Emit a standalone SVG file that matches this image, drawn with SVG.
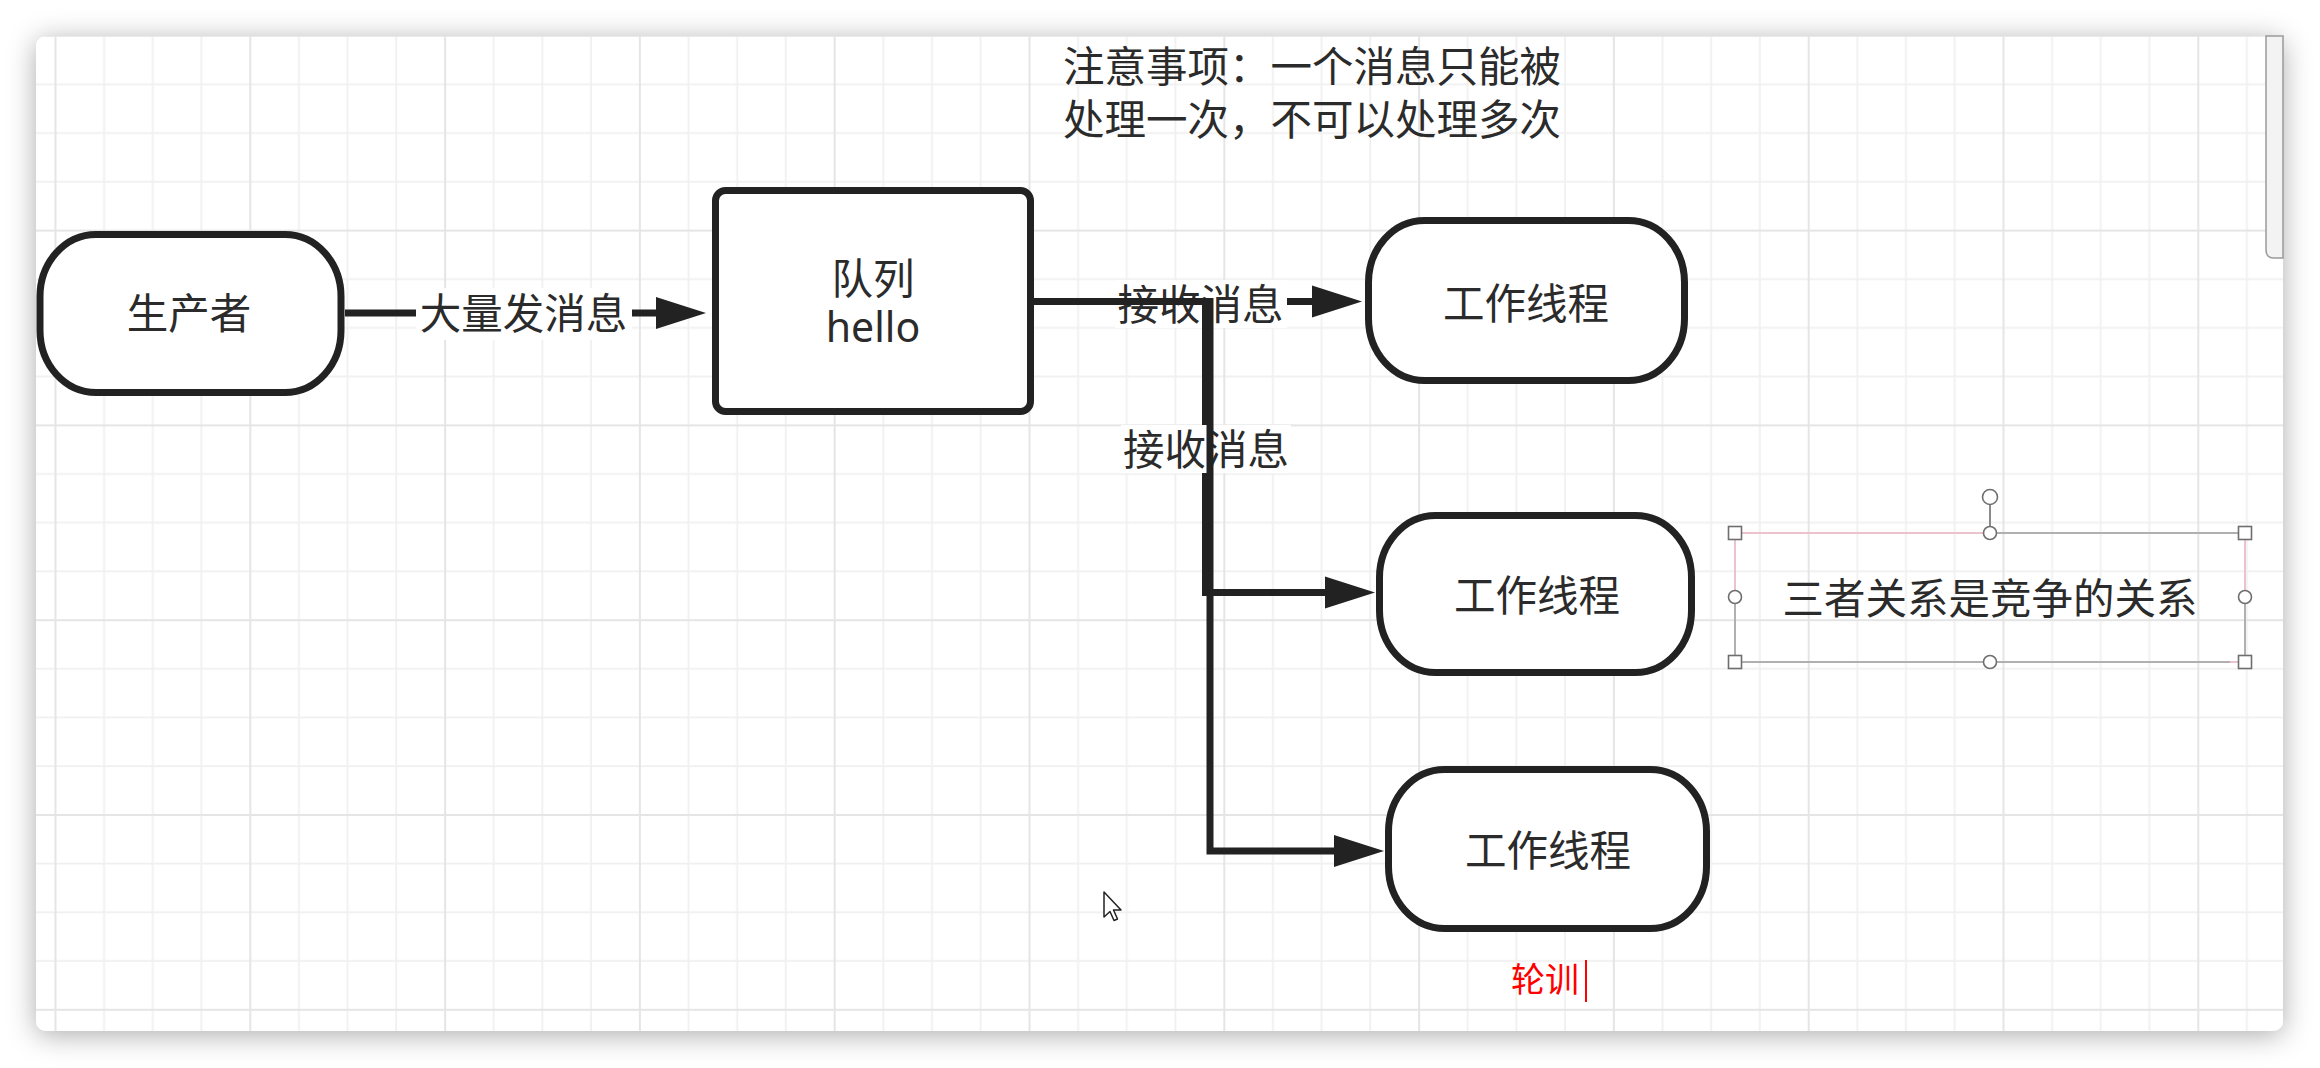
<svg xmlns="http://www.w3.org/2000/svg" width="2320" height="1068" viewBox="0 0 2320 1068">
  <defs>
    <filter id="shadow" x="-5%" y="-10%" width="110%" height="120%">
      <feDropShadow dx="0" dy="4" stdDeviation="14" flood-color="#000" flood-opacity="0.33"/>
    </filter>
    <pattern id="grid" patternUnits="userSpaceOnUse" x="54.5" y="34.8" width="194.8" height="194.8">
      <rect x="48.7" y="0" width="1.8" height="194.8" fill="#f0f0f0"/>
      <rect x="97.4" y="0" width="1.8" height="194.8" fill="#f0f0f0"/>
      <rect x="146.1" y="0" width="1.8" height="194.8" fill="#f0f0f0"/>
      <rect x="0" y="48.7" width="194.8" height="1.8" fill="#f0f0f0"/>
      <rect x="0" y="97.4" width="194.8" height="1.8" fill="#f0f0f0"/>
      <rect x="0" y="146.1" width="194.8" height="1.8" fill="#f0f0f0"/>
      <rect x="0" y="0" width="2" height="194.8" fill="#e5e5e5"/>
      <rect x="0" y="0" width="194.8" height="2" fill="#e5e5e5"/>
    </pattern>
    <marker id="arrow" markerUnits="userSpaceOnUse" markerWidth="50" markerHeight="32" refX="0" refY="16" orient="auto" overflow="visible">
      <path d="M0,0 L50,16 L0,32 Z" fill="#222"/>
    </marker>
    <style>
      .node { fill: #ffffff; stroke: #222; stroke-width: 7; }
      .edge { fill: none; stroke: #222; stroke-width: 7; stroke-linejoin: miter; marker-end: url(#arrow); }
      .t { font-family: "Noto Sans CJK SC", "Noto Sans", sans-serif; font-size: 41.5px; fill: #2b2b2b; }
      .c { text-anchor: middle; }
      .lbg { fill: #ffffff; }
      .hdl { fill: #ffffff; stroke: #6e6e6e; stroke-width: 1.6; }
    </style>
  </defs>

  <rect x="0" y="0" width="2320" height="1068" fill="#ffffff"/>
  <!-- canvas -->
  <rect x="36" y="36" width="2247" height="995" rx="10" fill="#ffffff" filter="url(#shadow)"/>
  <rect x="36" y="36" width="2247" height="995" rx="10" fill="url(#grid)"/>
  <!-- scrollbar -->
  <path d="M2283,36 H2266 V250 Q2266,258 2274,258 H2283 Z" fill="#f3f3f3" stroke="#9a9a9a" stroke-width="1.5"/>

  <!-- note text -->
  <g id="note">
    <text class="t" x="1063" y="82">注意事项：一个消息只能被</text>
    <text class="t" x="1063" y="135">处理一次，不可以处理多次</text>
  </g>

  <!-- nodes -->
  <g id="producer">
    <rect class="node" x="40" y="234.5" width="301" height="158" rx="56" ry="62"/>
    <text class="t c" x="189" y="329">生产者</text>
  </g>
  <g id="queue">
    <rect class="node" x="715.5" y="190.5" width="315" height="221" rx="10"/>
    <text class="t c" x="873" y="294">队列</text>
    <text class="t c" x="873" y="342" style="font-family: 'Noto Sans', sans-serif; font-size: 41px;">hello</text>
  </g>
  <g id="worker1">
    <rect class="node" x="1368.5" y="220.5" width="316" height="160" rx="56" ry="62"/>
    <text class="t c" x="1526" y="319">工作线程</text>
  </g>
  <g id="worker2">
    <rect class="node" x="1379.5" y="515.5" width="312" height="157" rx="56" ry="62"/>
    <text class="t c" x="1537" y="611">工作线程</text>
  </g>
  <g id="worker3">
    <rect class="node" x="1388.5" y="769.5" width="318" height="159" rx="56" ry="62"/>
    <text class="t c" x="1548" y="866">工作线程</text>
  </g>

  <!-- connectors -->
  <g id="connectors">
    <path class="edge" d="M345,313 H656"/>
    <rect class="lbg" x="416" y="288" width="216" height="52"/>
    <text class="t c" x="523.5" y="329">大量发消息</text>

    <path class="edge" d="M1034,301.5 H1312"/>
    <rect class="lbg" x="1115" y="280" width="172" height="48"/>
    <text class="t c" x="1200.5" y="320">接收消息</text>

    <path class="edge" d="M1034,301.5 H1205.5 V592.5 H1325"/>
    <rect class="lbg" x="1121" y="425" width="170" height="48"/>
    <text class="t c" x="1206" y="465">接收消息</text>

    <path class="edge" d="M1034,301.5 H1210 V851 H1334"/>
  </g>

  <!-- selected text box -->
  <g id="relation">
    <line x1="1735" y1="533" x2="1990" y2="533" stroke="#ecc3cd" stroke-width="2"/>
    <line x1="1990" y1="533" x2="2245" y2="533" stroke="#b0b0b0" stroke-width="2"/>
    <line x1="1735" y1="533" x2="1735" y2="600" stroke="#ecc3cd" stroke-width="2"/>
    <line x1="1735" y1="600" x2="1735" y2="662" stroke="#b0b0b0" stroke-width="2"/>
    <line x1="2245" y1="533" x2="2245" y2="600" stroke="#ecc3cd" stroke-width="2"/>
    <line x1="2245" y1="600" x2="2245" y2="662" stroke="#b0b0b0" stroke-width="2"/>
    <line x1="1735" y1="662" x2="2230" y2="662" stroke="#b0b0b0" stroke-width="2"/>
    <line x1="2230" y1="662" x2="2245" y2="662" stroke="#ecc3cd" stroke-width="2"/>
    <line x1="1990" y1="504.5" x2="1990" y2="526.5" stroke="#6e6e6e" stroke-width="1.6"/>
    <circle class="hdl" cx="1990" cy="497" r="7.5"/>
    <rect class="hdl" x="1728.5" y="526.5" width="13" height="13"/>
    <rect class="hdl" x="2238.5" y="526.5" width="13" height="13"/>
    <rect class="hdl" x="1728.5" y="655.5" width="13" height="13"/>
    <rect class="hdl" x="2238.5" y="655.5" width="13" height="13"/>
    <circle class="hdl" cx="1990" cy="533" r="6.5"/>
    <circle class="hdl" cx="1990" cy="662" r="6.5"/>
    <circle class="hdl" cx="1735" cy="597" r="6.5"/>
    <circle class="hdl" cx="2245" cy="597" r="6.5"/>
    <text class="t c" x="1990" y="614">三者关系是竞争的关系</text>
  </g>

  <!-- red note -->
  <g id="polling">
    <text x="1511" y="992" style="font-family: 'Noto Sans CJK SC', sans-serif; font-size: 34px; fill: #ff0000;">轮训</text>
    <rect x="1585" y="960" width="2" height="42" fill="#ff0000"/>
  </g>

  <!-- mouse cursor -->
  <path d="M1104,892 L1104,917 L1110,911.5 L1114,920.5 L1117.5,919 L1113.5,910 L1121,910 Z" fill="#ffffff" stroke="#222" stroke-width="1.5" stroke-linejoin="round"/>
</svg>
